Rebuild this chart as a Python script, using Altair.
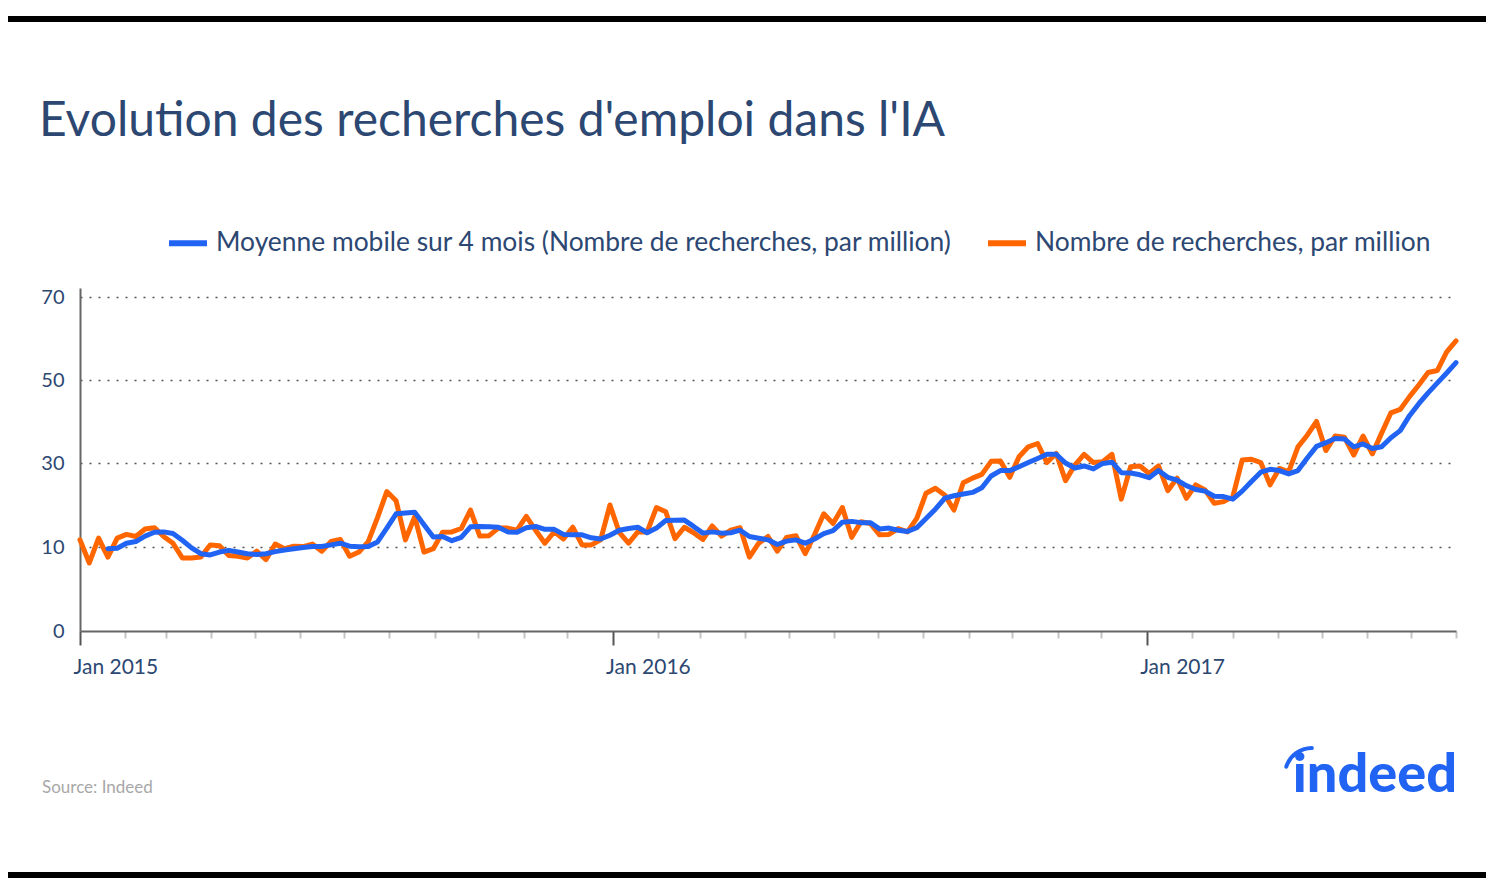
import altair as alt
import pandas as pd

# Weekly search volume (per million)
orange_values = [
    11.7, 8.1, 12.1, 8.8, 12.1, 13.0, 12.5, 14.3, 14.6, 12.5,
    10.9, 8.7, 8.7, 8.8, 10.5, 10.3, 9.0, 8.9, 8.7, 9.5,
    8.5, 10.7, 9.8, 10.2, 10.1, 10.7, 9.5, 11.3, 11.8, 8.9,
    9.4, 11.3, 17.0, 23.2, 21.0, 11.7, 17.2, 9.4, 9.8, 13.5,
    13.6, 14.4, 18.8, 12.6, 12.7, 14.5, 14.5, 14.0, 17.3, 14.0,
    10.9, 13.6, 11.9, 14.7, 10.5, 10.5, 11.7, 20.0, 13.5, 10.9,
    13.6, 13.6, 19.4, 18.4, 12.0, 14.7, 13.4, 11.8, 15.0, 12.6,
    14.0, 14.6, 8.8, 10.9, 12.5, 9.5, 12.3, 12.7, 9.2, 12.9,
    17.9, 15.6, 19.4, 12.3, 16.0, 15.6, 12.9, 13.0, 14.4, 13.6,
    16.8, 22.8, 24.0, 22.4, 18.8, 25.3, 26.4, 27.3, 30.4, 30.5,
    26.6, 31.5, 33.9, 34.7, 30.1, 32.3, 25.8, 29.5, 32.1, 30.1,
    30.3, 32.1, 21.4, 29.1, 29.3, 27.5, 29.3, 23.4, 26.4, 21.6,
    24.8, 23.6, 20.4, 20.8, 22.0, 30.7, 30.9, 30.1, 24.8, 28.7,
    27.9, 33.9, 36.7, 40.0, 33.0, 36.5, 36.2, 31.9, 36.5, 32.2,
    37.2, 42.1, 42.9, 46.0, 48.8, 51.8, 52.3, 56.8, 59.4,
]

# Moving average (starts at the 4th point)
blue_values = [
    9.8, 9.85, 10.9, 11.3, 12.6, 13.5, 13.6, 13.2, 11.6, 9.9,
    9.2, 9.05, 9.4, 9.6, 9.4, 9.2, 9.1, 9.2, 9.45, 9.65,
    9.8, 9.95,
    10.1, 10.1, 10.5, 10.9, 10.2, 10.05, 10.1, 11.2, 14.5, 17.9,
    18.1, 18.3, 15.3, 12.4, 12.5, 11.5, 12.3, 14.8, 14.9, 14.8,
    14.7, 13.6, 13.5, 14.6,
    14.9, 14.2, 14.2, 13.0, 12.9, 12.9, 12.2, 11.9, 12.8, 14.0,
    14.4, 14.7, 13.4, 14.5, 16.3, 16.35, 16.4, 14.9, 13.3, 13.6,
    13.3, 13.4, 14.0, 12.5, 12.1,
    11.7, 10.6, 11.4, 11.7, 10.9, 11.9, 13.2, 13.9, 15.9, 16.1,
    15.8, 15.8, 14.3, 14.5, 14.0, 13.7, 14.6, 16.8, 19.0, 21.6,
    22.2, 22.6, 23.0, 24.1,
    26.9, 28.2, 28.2, 29.1, 30.1, 31.1, 32.1, 32.1, 30.0, 28.8,
    29.3, 28.6, 29.9, 30.2, 27.7, 27.6, 27.2, 26.5, 28.2, 26.6,
    25.9, 24.6, 23.7, 23.3, 22.1,
    22.0, 21.4, 23.3, 25.6, 27.8, 28.5, 28.2, 27.4, 28.2, 31.2,
    34.0, 34.9, 35.9, 35.8, 33.9, 34.6, 33.5, 33.9, 36.1, 37.8,
    41.4, 44.3, 46.9, 49.3, 51.7, 54.2,
]

series_names = [
    "Moyenne mobile sur 4 mois (Nombre de recherches, par million)",
    "Nombre de recherches, par million",
]
series_colors = ["#2164f3", "#ff6600"]
y_ticks = [0, 10, 30, 50, 70]

date_start = "2015-01-01"
date_end = "2017-08-01"
dates = pd.date_range(date_start, date_end, periods=len(orange_values))
date_str = [d.strftime("%Y-%m-%dT%H:%M:%S") for d in dates]

off = len(orange_values) - len(blue_values)
df_orange = pd.DataFrame({"date": date_str, "value": orange_values, "series": series_names[1]})
df_blue = pd.DataFrame({"date": date_str[off:], "value": blue_values, "series": series_names[0]})

NAVY = "#2c4872"
FONT = "Lato"
W, H = 1376, 343

x_enc = alt.X(
    "date:T",
    title=None,
    scale=alt.Scale(domain=[alt.DateTime(year=2015, month=1, date=1),
                            alt.DateTime(year=2017, month=8, date=1)]),
    axis=alt.Axis(
        tickCount={"interval": "month", "step": 1},
        labelExpr="month(datum.value) == 0 ? 'Jan ' + year(datum.value) : ''",
        labelOverlap=False,
        labelFlush=False,
        labelAlign="left",
        labelOffset=-7,
        labelPadding=11,
        labelFontSize=21,
        labelFont=FONT,
        labelColor=NAVY,
        domainColor="#666666",
        domainWidth=2,
        tickWidth=2,
        tickSize={"condition": {"test": "month(datum.value) == 0", "value": 14}, "value": 7},
        tickColor={"condition": {"test": "month(datum.value) == 0", "value": "#555555"}, "value": "#c4c4c4"},
        grid=False,
    ),
)
y_enc = alt.Y(
    "value:Q",
    title=None,
    scale=alt.Scale(domain=[0, 10, 30, 50, 70, 72.2], range=[H, 259, 175, 92, 9, 0], nice=False, zero=False),
    axis=alt.Axis(
        values=y_ticks,
        ticks=False,
        labelPadding=16,
        labelFontSize=20,
        labelFont=FONT,
        labelColor=NAVY,
        domainColor="#666666",
        domainWidth=2,
        grid=True,
        gridColor="#555555",
        gridDash=[2, 7],
        gridWidth=1.3,
        gridOpacity={"condition": {"test": "datum.value == 0", "value": 0}, "value": 1},
    ),
)
color_enc = alt.Color(
    "series:N",
    scale=alt.Scale(domain=series_names, range=series_colors),
    legend=alt.Legend(
        title=None,
        orient="none",
        legendX=86,
        legendY=-67,
        direction="horizontal",
        symbolType="stroke",
        symbolSize=1444,
        symbolStrokeWidth=6,
        labelFontSize=26.4,
        labelFont=FONT,
        labelColor=NAVY,
        labelLimit=1000,
        labelOffset=6,
        columnPadding=24,
    ),
)

orange_line = alt.Chart(df_orange).mark_line(strokeWidth=5, strokeJoin="round", strokeCap="round").encode(
    x=x_enc, y=y_enc, color=color_enc
)
blue_line = alt.Chart(df_blue).mark_line(strokeWidth=5, strokeJoin="round", strokeCap="round").encode(
    x=x_enc, y=y_enc, color=color_enc
)

one = alt.Data(values=[{}])
top_bar = alt.Chart(one).mark_rule(color="black", strokeWidth=6).encode(
    x=alt.value(-80), x2=alt.value(1420), y=alt.value(-269)
)
bottom_bar = alt.Chart(one).mark_rule(color="black", strokeWidth=6).encode(
    x=alt.value(-80), x2=alt.value(1420), y=alt.value(587)
)
source = alt.Chart(one).mark_text(align="left", baseline="middle", fontSize=17, font=FONT, color="#a8a8a8").encode(
    x=alt.value(-38), y=alt.value(500), text=alt.value("Source: Indeed")
)
logo = alt.Chart(one).mark_text(align="right", baseline="alphabetic", fontSize=54, font=FONT, fontWeight=900,
                                color="#2164f3").encode(
    x=alt.value(1377), y=alt.value(504), text=alt.value("indeed")
)
logo_arc = alt.Chart(one).mark_arc(color="#2164f3", cornerRadius=2).encode(
    x=alt.value(1232), y=alt.value(487),
    theta=alt.value(4.95), theta2=alt.value(6.35),
    radius=alt.value(29), radius2=alt.value(25),
)

chart = alt.layer(orange_line, blue_line, top_bar, bottom_bar, source, logo, logo_arc).properties(
    width=W,
    height=H,
    background="white",
    title=alt.TitleParams(
        "Evolution des recherches d'emploi dans l'IA",
        anchor="start",
        font=FONT,
        fontSize=48,
        fontWeight=400,
        color=NAVY,
        baseline="alphabetic",
        dx=42,
        dy=168,
        offset=0,
    ),
    autosize=alt.AutoSizeParams(type="none"),
    padding={"left": 72, "top": 280, "right": 30, "bottom": 249},
).configure_view(stroke=None)

chart.save("out.html", embed_options={"renderer": "svg", "actions": False})
